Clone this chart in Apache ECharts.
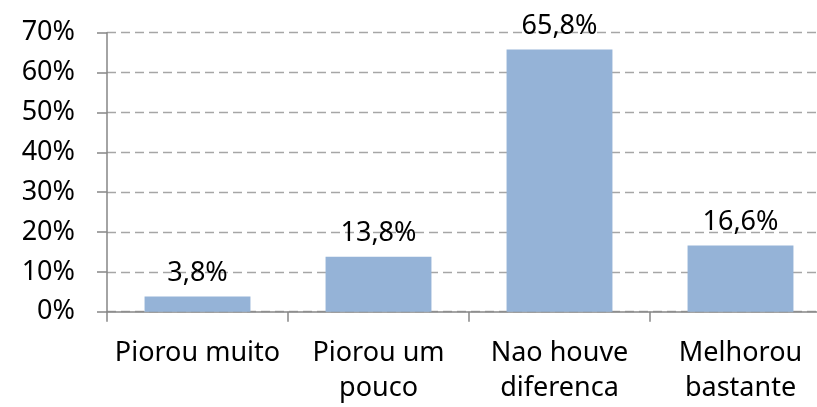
<!DOCTYPE html>
<html>
<head>
<meta charset="utf-8">
<script src="https://cdn.jsdelivr.net/npm/echarts@6/dist/echarts.min.js"></script>
<style>
html,body{margin:0;padding:0;background:#fff;}
#chart{width:817px;height:407px;}
</style>
</head>
<body>
<div id="chart"></div>
<script>
const categories = ['Piorou muito', 'Piorou um\npouco', 'Nao houve\ndiferenca', 'Melhorou\nbastante'];
const values = [3.8, 13.8, 65.8, 16.6];
const yTicks = { min: 0, max: 70, interval: 10 };

const chart = echarts.init(document.getElementById('chart'), null, { renderer: 'canvas' });
const FONT = '"Noto Sans", sans-serif';
chart.setOption({
  animation: false,
  grid: { left: 107, top: 32.7, width: 724, height: 279, containLabel: false, outerBoundsMode: 'none' },
  xAxis: {
    type: 'category',
    data: categories,
    boundaryGap: true,
    axisLine: { show: true, lineStyle: { color: '#868686', width: 1.5 } },
    axisTick: { show: true, length: 10, inside: false, alignWithLabel: false, lineStyle: { color: '#868686', width: 1.5 } },
    axisLabel: { color: '#000', fontFamily: FONT, fontSize: 27, lineHeight: 35, margin: 24, interval: 0 },
    splitLine: { show: false }
  },
  yAxis: {
    type: 'value',
    min: yTicks.min, max: yTicks.max, interval: yTicks.interval,
    axisLine: { show: true, lineStyle: { color: '#868686', width: 1.5 } },
    axisTick: { show: true, length: 10, lineStyle: { color: '#868686', width: 1.5 } },
    axisLabel: { color: '#000', fontFamily: FONT, fontSize: 27, margin: 32, formatter: v => v + '%' },
    splitLine: { show: true, lineStyle: { color: '#a6a6a6', width: 1.3, type: [9, 5] } }
  },
  series: [{
    type: 'bar',
    data: values,
    barWidth: '58.5%',
    itemStyle: { color: '#95B3D7' },
    label: {
      show: true, position: 'top', distance: 10,
      color: '#000', fontFamily: FONT, fontSize: 27,
      formatter: p => p.value.toFixed(1).replace('.', ',') + '%'
    }
  }]
});
</script>
</body>
</html>
